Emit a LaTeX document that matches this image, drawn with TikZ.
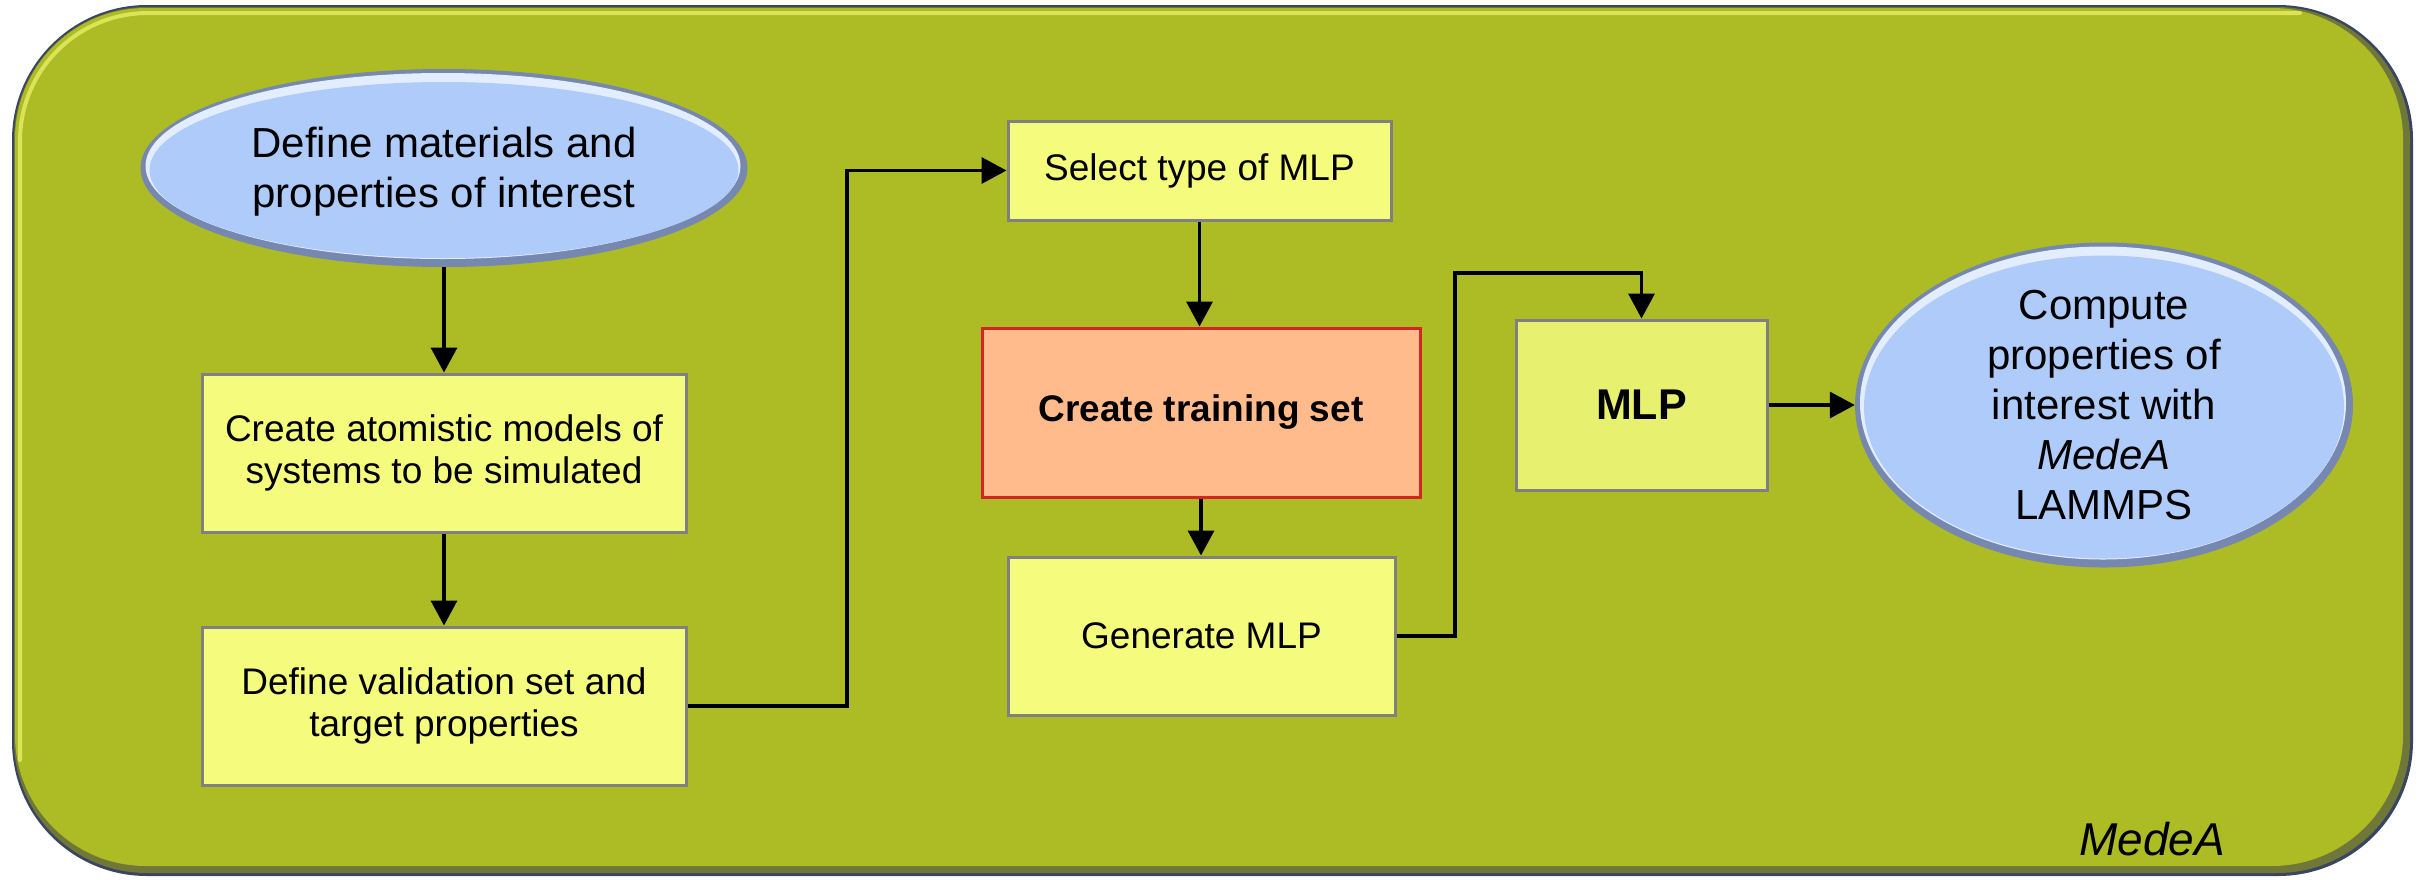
\documentclass[tikz,border=0pt]{standalone}
\usepackage{fontspec}
\setmainfont{Liberation Sans}
\usetikzlibrary{arrows.meta,shapes.geometric}
\definecolor{bgolive}{HTML}{ADBB24}
\definecolor{framedark}{HTML}{3A4560}
\definecolor{frameshade}{HTML}{6F7838}
\definecolor{framehl}{HTML}{E4EC62}
\definecolor{boxyellow}{HTML}{F5FB7C}
\definecolor{mlpfill}{HTML}{E8F070}
\definecolor{ctfill}{HTML}{FFBB8C}
\definecolor{ctborder}{HTML}{D42424}
\definecolor{boxgray}{HTML}{808080}
\definecolor{bubblefill}{HTML}{AFCBFA}
\definecolor{bubblerim}{HTML}{7788B0}
\definecolor{bubblehl}{HTML}{E2EDFF}
\tikzset{
  bubble/.style 2 args={shape=ellipse, inner sep=0pt, minimum width=#1, minimum height=#2,
    fill=bubblerim, align=center, font=\fontsize{42}{50}\selectfont,
    path picture={
      \fill[bubblehl] ([xshift=-1pt,yshift=2pt]path picture bounding box.center)
        ellipse [x radius={#1/2-6}, y radius={#2/2-6}];
      \fill[bubblefill] ([yshift=-2pt]path picture bounding box.center)
        ellipse [x radius={#1/2-9}, y radius={#2/2-11}];
    }},
  box/.style={draw=boxgray, line width=3pt, fill=boxyellow, inner sep=0pt,
    align=center, font=\fontsize{37}{42}\selectfont},
  arr/.style={draw=black, line width=3.5pt, -{Triangle[length=25pt,width=26pt]}}
}
\begin{document}
\begin{tikzpicture}[x=1pt,y=-1pt]
\useasboundingbox (0,0) rectangle (2425,879);
% frame
\fill[framedark, rounded corners=135pt] (12,5) rectangle (2413,876);
\fill[frameshade, rounded corners=133pt] (14,7) rectangle (2410,873);
\fill[bgolive, rounded corners=131pt] (15,8) rectangle (2403,866);
\draw[framehl, opacity=.85, line width=4pt, line cap=round, rounded corners=128pt]
  (20,760) -- (20,13) -- (2300,13);
% nodes
\node[bubble={607}{198}] (e1) at (444,168)
  {\rule{0pt}{38pt}Define materials and\\properties of interest};
\node[box, minimum width=484, minimum height=158] (b2) at (444,453)
  {Create atomistic models of\\systems to be simulated};
\node[box, minimum width=484, minimum height=158] (b3) at (444,706)
  {Define validation set and\\target properties};
\node[box, minimum width=383, minimum height=99] (sel) at (1199.5,170.5) {Select type of MLP};
\node[box, draw=ctborder, fill=ctfill, minimum width=438, minimum height=169,
  font=\fontsize{37}{42}\selectfont\bfseries] (ct) at (1201,412.5) {Create training set};
\node[box, minimum width=387, minimum height=158] (gen) at (1201.5,636) {Generate MLP};
\node[box, fill=mlpfill, minimum width=251, minimum height=170,
  font=\fontsize{43}{48}\selectfont\bfseries] (mlp) at (1641.5,405) {MLP};
\node[bubble={498}{325}, inner ysep=-30pt] (e2) at (2104,405)
  {Compute\\properties of\\interest with\\\textit{MedeA}\\LAMMPS};
\node[font=\fontsize{46}{50}\selectfont\itshape, anchor=base] (lbl) at (2152,855) {MedeA};
% joints
\coordinate (j1) at (847,0);
\coordinate (j2) at (1455,273);
% connectors
\draw[arr] (e1.south) -- (e1.south |- b2.north);
\draw[arr] (b2.south) -- (b3.north);
\draw[arr] (b3.east) -| (j1 |- sel.west) -- (sel.west);
\draw[arr] (sel.south) -- (sel.south |- ct.north);
\draw[arr] (ct.south) -- (ct.south |- gen.north);
\draw[arr] (gen.east) -| (j2) -| (mlp.north);
\draw[arr] (mlp.east) -- (mlp.east -| e2.west);
\end{tikzpicture}
\end{document}
